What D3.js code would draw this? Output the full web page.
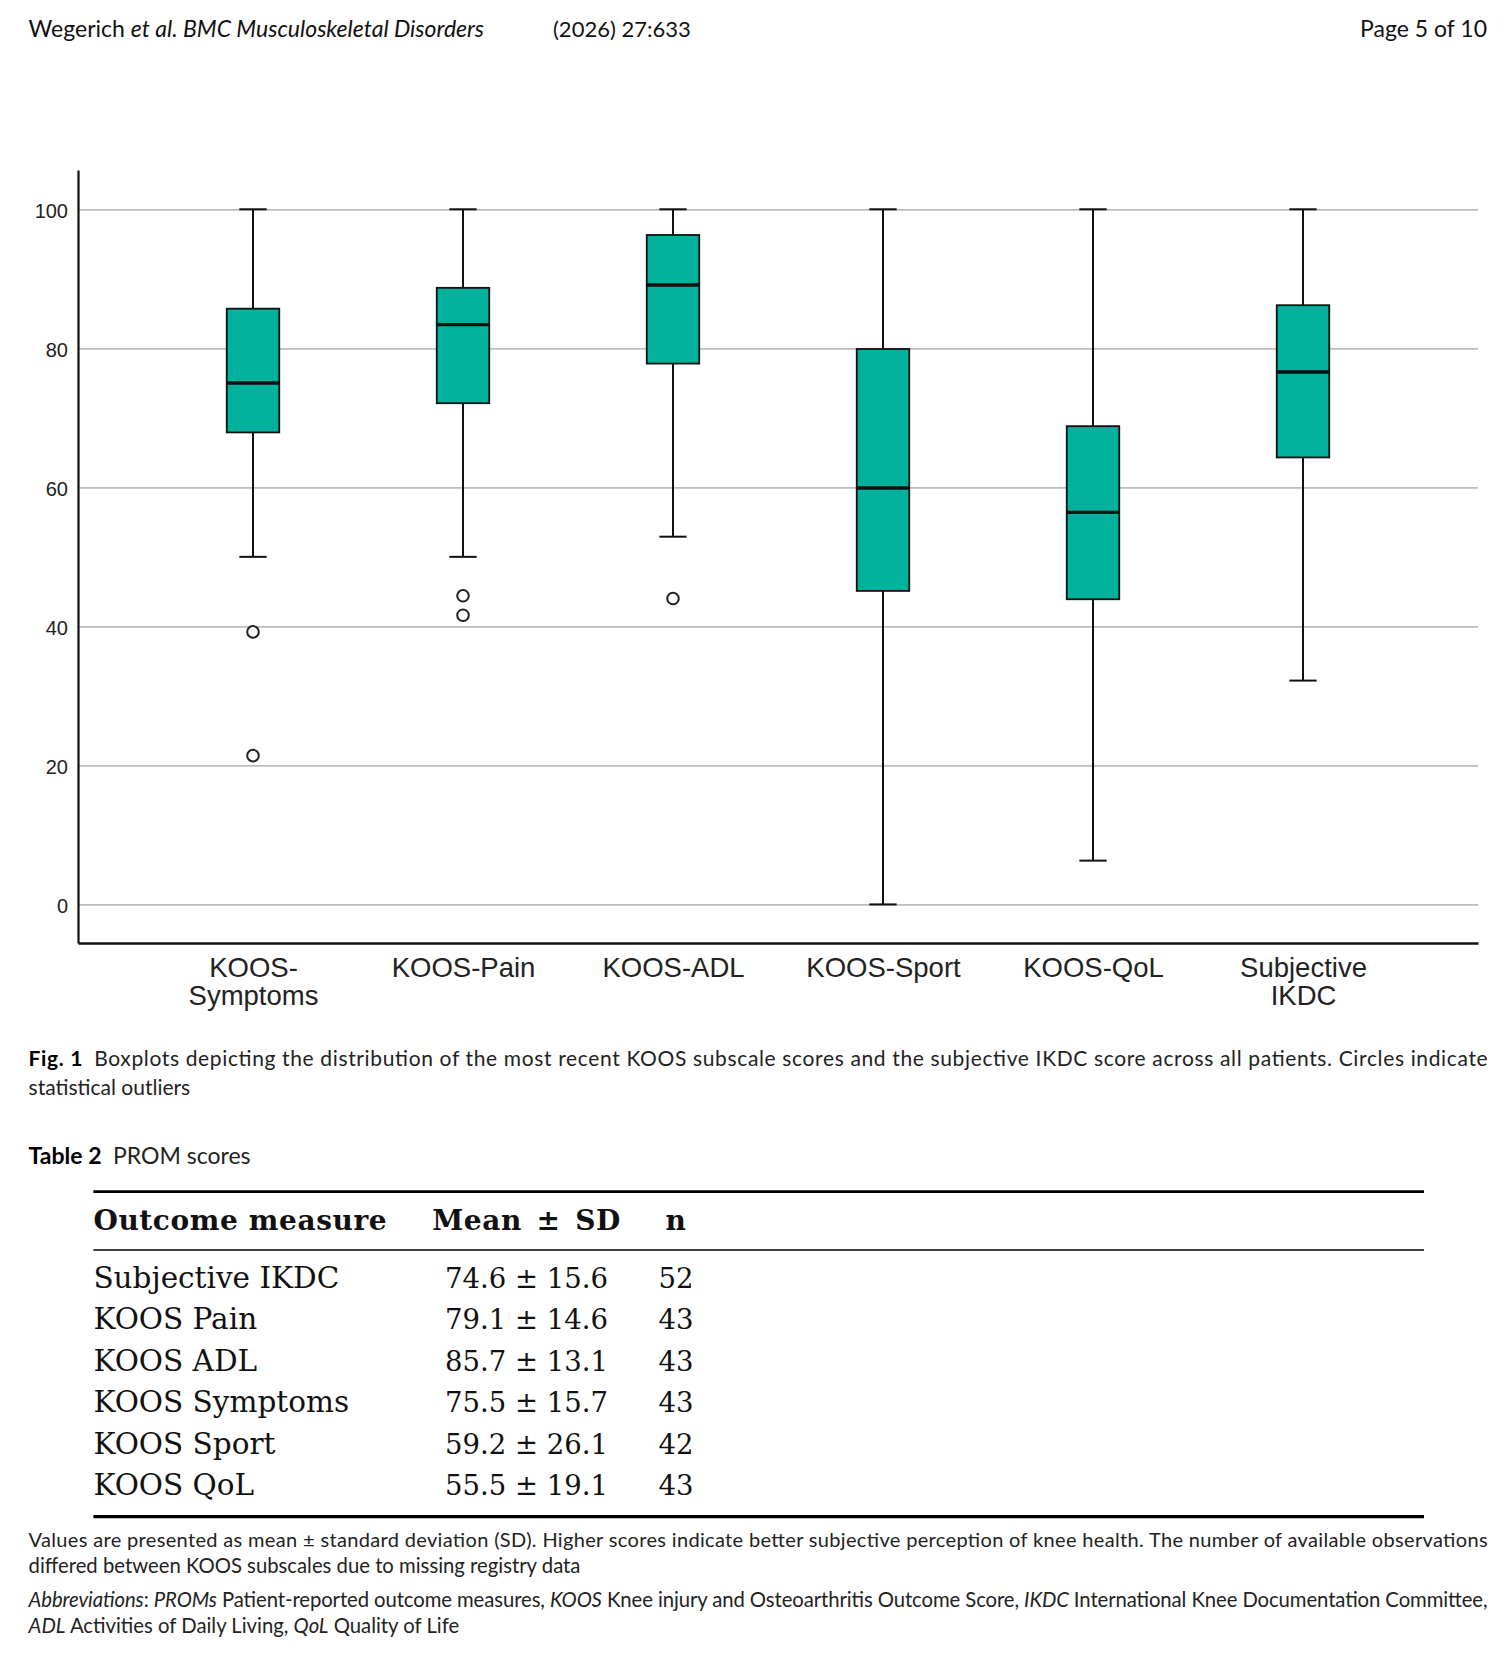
<!DOCTYPE html>
<html>
<head>
<meta charset="utf-8">
<script src="https://cdn.jsdelivr.net/npm/d3@7"></script>
<style>
body { margin: 0; background: #fff; }
</style>
</head>
<body>
<div id="page"></div>
<script>
// boxplot values
var categories = ["KOOS-Symptoms", "KOOS-Pain", "KOOS-ADL", "KOOS-Sport", "KOOS-QoL", "Subjective IKDC"];
var catLabels = [["KOOS-", "Symptoms"], ["KOOS-Pain"], ["KOOS-ADL"], ["KOOS-Sport"], ["KOOS-QoL"], ["Subjective", "IKDC"]];
var whiskerLow = [50, 50, 52.9, 0, 6.3, 32.2];
var q1 = [67.9, 72.1, 77.8, 45.1, 43.9, 64.3];
var medians = [75, 83.4, 89.1, 59.9, 56.4, 76.6];
var q3 = [85.7, 88.7, 96.3, 79.9, 68.8, 86.2];
var whiskerHigh = [100, 100, 100, 100, 100, 100];
var outliers = [[39.2, 21.4], [44.4, 41.6], [44.0], [], [], []];
var yTicks = [0, 20, 40, 60, 80, 100];

// Table 2
var tableHeader = ["Outcome measure", "Mean\u2002\u00b1\u2002SD", "n"];
var measures = ["Subjective IKDC", "KOOS Pain", "KOOS ADL", "KOOS Symptoms", "KOOS Sport", "KOOS QoL"];
var means = [74.6, 79.1, 85.7, 75.5, 59.2, 55.5];
var sds = [15.6, 14.6, 13.1, 15.7, 26.1, 19.1];
var ns = [52, 43, 43, 43, 42, 43];

var W = 1512, H = 1664;
var sans = "Lato, 'Open Sans', sans-serif";
var chartFont = "'Liberation Sans', Arial, sans-serif";
var serif = "'DejaVu Serif', serif";

var svg = d3.select("#page").append("svg")
	.attr("width", W)
	.attr("height", H)
	.style("display", "block");

// page header
var hdr = svg.append("text")
	.attr("x", 28.6).attr("y", 37.3)
	.style("font-family", sans).style("font-size", "23px").attr("fill", "#111");
hdr.append("tspan").text("Wegerich ");
hdr.append("tspan").style("font-style", "italic").text("et al. BMC Musculoskeletal Disorders");

svg.append("text")
	.attr("x", 553).attr("y", 37.3)
	.style("font-family", sans).style("font-size", "22px").attr("fill", "#111")
	.text("(2026) 27:633");

svg.append("text")
	.attr("x", 1487).attr("y", 37.3)
	.attr("text-anchor", "end")
	.style("font-family", sans).style("font-size", "23px").attr("fill", "#111")
	.text("Page 5 of 10");

// ---- boxplot ----
var plotLeft = 78, plotRight = 1478, plotTop = 170, plotBottom = 943;

var x = d3.scalePoint()
	.domain(categories)
	.range([plotLeft, plotRight])
	.padding(0.8333);

var y = d3.scaleLinear()
	.domain([-5.55, 105.65])
	.range([plotBottom, plotTop]);

// gridlines
var grid = svg.append("g")
	.attr("transform", "translate(" + plotLeft + ",0)")
	.call(d3.axisRight(y).tickValues(yTicks).tickSize(plotRight - plotLeft).tickFormat(""));
grid.select(".domain").remove();
grid.selectAll("line").attr("stroke", "#bdbdbd").attr("stroke-width", 1.7);

var boxes = categories.map(function(c, i) {
	return {
		cat: c,
		lo: whiskerLow[i],
		q1: q1[i],
		med: medians[i],
		q3: q3[i],
		hi: whiskerHigh[i],
		out: outliers[i]
	};
});

var boxW = x.step() * 0.25,
	capW = x.step() * 0.13;

var g = svg.selectAll(".box")
	.data(boxes)
	.enter().append("g")
	.attr("class", "box")
	.attr("transform", function(d) { return "translate(" + x(d.cat) + ",0)"; });

// whisker stems
g.append("line")
	.attr("y1", function(d) { return y(d.hi); })
	.attr("y2", function(d) { return y(d.lo); })
	.attr("stroke", "#111").attr("stroke-width", 2);

// caps
g.selectAll(".cap")
	.data(function(d) { return [d.lo, d.hi]; })
	.enter().append("line")
	.attr("class", "cap")
	.attr("x1", -capW / 2).attr("x2", capW / 2)
	.attr("y1", function(v) { return y(v); })
	.attr("y2", function(v) { return y(v); })
	.attr("stroke", "#111").attr("stroke-width", 2);

g.append("rect")
	.attr("x", -boxW / 2)
	.attr("width", boxW)
	.attr("y", function(d) { return y(d.q3); })
	.attr("height", function(d) { return y(d.q1) - y(d.q3); })
	.attr("fill", "#00b19c")
	.attr("stroke", "#111")
	.attr("stroke-width", 1.8);

g.append("line")
	.attr("x1", -boxW / 2).attr("x2", boxW / 2)
	.attr("y1", function(d) { return y(d.med); })
	.attr("y2", function(d) { return y(d.med); })
	.attr("stroke", "#111").attr("stroke-width", 3.4);

g.selectAll(".outlier")
	.data(function(d) { return d.out; })
	.enter().append("circle")
	.attr("class", "outlier")
	.attr("cy", function(v) { return y(v); })
	.attr("r", 5.8)
	.attr("fill", "#fff")
	.attr("stroke", "#222")
	.attr("stroke-width", 2);

// y axis
var yAxis = svg.append("g")
	.attr("transform", "translate(" + plotLeft + ",0)")
	.call(d3.axisLeft(y).tickValues(yTicks).tickSize(0).tickSizeOuter(0).tickPadding(10));
yAxis.select(".domain").attr("stroke", "#111").attr("stroke-width", 2.2);
yAxis.selectAll("text")
	.attr("dy", "0.4em")
	.style("font-family", chartFont)
	.style("font-size", "20px")
	.attr("fill", "#222");

// x axis
var xAxis = svg.append("g")
	.attr("transform", "translate(0," + plotBottom + ")")
	.call(d3.axisBottom(x).tickSize(0).tickSizeOuter(0));
xAxis.select(".domain").attr("stroke", "#111").attr("stroke-width", 2.4);
xAxis.selectAll("text").each(function(d, i) {
	var t = d3.select(this).text(null)
		.attr("y", 34).attr("dy", null)
		.style("font-family", chartFont)
		.style("font-size", "27.5px")
		.attr("fill", "#222");
	catLabels[i].forEach(function(s, j) {
		t.append("tspan").attr("x", 0).attr("dy", j == 0 ? 0 : 28).text(s);
	});
});

// ---- figure caption ----
var cap = svg.append("text")
	.attr("x", 28.6).attr("y", 1065.7)
	.attr("textLength", 1459)
	.attr("lengthAdjust", "spacing")
	.style("font-family", sans).style("font-size", "21px").attr("fill", "#222");
cap.append("tspan").style("font-weight", "bold").attr("fill", "#000").text("Fig. 1");
cap.append("tspan").text("\u2002Boxplots depicting the distribution of the most recent KOOS subscale scores and the subjective IKDC score across all patients. Circles indicate");

svg.append("text")
	.attr("x", 28.6).attr("y", 1095)
	.style("font-family", sans).style("font-size", "21px").attr("fill", "#222")
	.text("statistical outliers");

// ---- Table 2 ----
var tcap = svg.append("text")
	.attr("x", 28.6).attr("y", 1164)
	.style("font-family", sans).style("font-size", "23px").attr("fill", "#222");
tcap.append("tspan").style("font-weight", "bold").attr("fill", "#000").text("Table 2");
tcap.append("tspan").text("\u2002PROM scores");

var tLeft = 93.4, tRight = 1424;
var colX = [tLeft, 526.5, 676];

[[1191.7, 2.8], [1250, 1.6], [1516.7, 3.2]].forEach(function(r) {
	svg.append("line")
		.attr("x1", tLeft).attr("x2", tRight)
		.attr("y1", r[0]).attr("y2", r[0])
		.attr("stroke", "#000").attr("stroke-width", r[1]);
});

svg.selectAll(".th")
	.data(tableHeader)
	.enter().append("text")
	.attr("class", "th")
	.attr("x", function(d, i) { return colX[i]; })
	.attr("y", 1230)
	.attr("text-anchor", function(d, i) { return i == 0 ? "start" : "middle"; })
	.style("font-family", serif).style("font-size", "28px").style("font-weight", "bold")
	.style("letter-spacing", "0.6px")
	.attr("fill", "#111")
	.text(function(d) { return d; });

var rowY = d3.scaleLinear().domain([0, 5]).range([1287.5, 1495]);

var rows = svg.selectAll(".trow")
	.data(measures)
	.enter().append("g")
	.attr("class", "trow")
	.attr("transform", function(d, i) { return "translate(0," + rowY(i) + ")"; })
	.style("font-family", serif).attr("fill", "#111");

rows.append("text")
	.attr("x", colX[0])
	.style("font-size", "29.5px")
	.text(function(d) { return d; });
rows.append("text")
	.attr("x", colX[1]).attr("text-anchor", "middle")
	.style("font-size", "27.5px")
	.text(function(d, i) { return means[i].toFixed(1) + " \u00b1 " + sds[i].toFixed(1); });
rows.append("text")
	.attr("x", colX[2]).attr("text-anchor", "middle")
	.style("font-size", "27.5px")
	.text(function(d, i) { return ns[i]; });

// table notes
svg.append("text")
	.attr("x", 28.6).attr("y", 1546.7)
	.attr("textLength", 1459)
	.attr("lengthAdjust", "spacing")
	.style("font-family", sans).style("font-size", "20px").attr("fill", "#222")
	.text("Values are presented as mean \u00b1 standard deviation (SD). Higher scores indicate better subjective perception of knee health. The number of available observations");

svg.append("text")
	.attr("x", 28.6).attr("y", 1572.7)
	.style("font-family", sans).style("font-size", "20.3px").attr("fill", "#222")
	.text("differed between KOOS subscales due to missing registry data");

var abbr = [
	[["Abbreviations", true], [": ", false], ["PROMs", true], [" Patient-reported outcome measures, ", false], ["KOOS", true],
	 [" Knee injury and Osteoarthritis Outcome Score, ", false], ["IKDC", true], [" International Knee Documentation Committee,", false]],
	[["ADL", true], [" Activities of Daily Living, ", false], ["QoL", true], [" Quality of Life", false]]
];

abbr.forEach(function(line, k) {
	var t = svg.append("text")
		.attr("x", 28.6).attr("y", k == 0 ? 1606.5 : 1633)
		.style("font-family", sans).style("font-size", "20.3px").attr("fill", "#222");
	if (k == 0) t.attr("textLength", 1459).attr("lengthAdjust", "spacing");
	line.forEach(function(p) {
		t.append("tspan").style("font-style", p[1] ? "italic" : "normal").text(p[0]);
	});
});
</script>
</body>
</html>
